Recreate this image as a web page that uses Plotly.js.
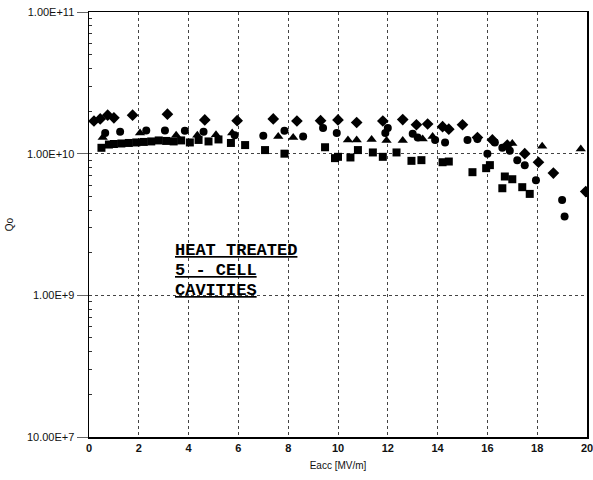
<!DOCTYPE html>
<html>
<head>
<meta charset="utf-8">
<script src="https://cdn.plot.ly/plotly-3.0.1.min.js"></script>
<style>html,body{margin:0;padding:0;background:#fff;}#chart{width:593px;height:480px;}</style>
</head>
<body>
<div id="chart"></div>
<script>
// Series values (Eacc in MV/m, Qo)
var diamondX = [0.2,0.45,0.75,1.0,1.75,3.15,4.65,5.95,7.4,8.35,9.3,10.0,10.75,11.8,12.6,13.15,13.6,14.2,14.45,15.0,15.6,16.2,16.8,17.5,18.05,18.65,19.95];
var diamondY = [1.70e10,1.76e10,1.87e10,1.79e10,1.87e10,1.90e10,1.73e10,1.71e10,1.76e10,1.70e10,1.71e10,1.73e10,1.66e10,1.70e10,1.74e10,1.60e10,1.62e10,1.55e10,1.49e10,1.60e10,1.30e10,1.25e10,1.15e10,1.00e10,0.87e10,0.73e10,0.54e10];

var circleX = [0.65,1.25,2.3,3.05,3.85,4.6,5.85,7.0,7.85,8.6,9.4,9.95,11.9,12.0,13.0,13.2,13.9,14.3,15.2,15.6,16.0,16.3,16.6,16.9,17.2,17.5,17.95,19.0,19.1];
var circleY = [1.40e10,1.43e10,1.46e10,1.46e10,1.45e10,1.43e10,1.35e10,1.34e10,1.45e10,1.32e10,1.52e10,1.40e10,1.40e10,1.52e10,1.38e10,1.30e10,1.25e10,1.20e10,1.25e10,1.27e10,1.00e10,1.20e10,1.10e10,1.05e10,0.90e10,0.83e10,0.65e10,0.47e10,0.36e10];

var triangleX = [0.55,2.05,3.5,4.35,5.1,5.75,7.6,8.2,10.4,10.75,11.35,11.95,12.6,13.4,13.8,17.0,18.2,19.75];
var triangleY = [1.30e10,1.40e10,1.35e10,1.35e10,1.36e10,1.40e10,1.32e10,1.30e10,1.25e10,1.25e10,1.26e10,1.24e10,1.24e10,1.27e10,1.32e10,1.18e10,1.13e10,1.08e10];

var squareX = [0.5,0.8,1.0,1.3,1.6,1.9,2.2,2.5,2.8,3.1,3.4,3.7,4.05,4.4,4.8,5.2,5.7,6.27,7.07,7.85,9.48,9.88,10.0,10.5,10.8,11.4,11.8,12.35,12.95,13.35,14.2,14.45,15.4,15.95,16.1,16.6,16.7,17.0,17.4,17.7];
var squareY = [1.10e10,1.16e10,1.17e10,1.18e10,1.19e10,1.20e10,1.21e10,1.22e10,1.24e10,1.23e10,1.22e10,1.24e10,1.20e10,1.25e10,1.22e10,1.26e10,1.19e10,1.15e10,1.06e10,1.00e10,1.11e10,0.93e10,0.95e10,0.94e10,1.06e10,1.02e10,0.95e10,1.02e10,0.89e10,0.90e10,0.87e10,0.88e10,0.74e10,0.79e10,0.83e10,0.57e10,0.69e10,0.66e10,0.58e10,0.52e10];

// Axis ticks and labels
var xTickVals = [0,2,4,6,8,10,12,14,16,18,20];
var yTickVals = [1e8,1e9,1e10,1e11];
var yTickText = ["10.00E+7","1.00E+9","1.00E+10","1.00E+11"];
var noteLines = ["HEAT TREATED","5 - CELL","CAVITIES"];

var minorVals = [];
for (var d = 8; d < 11; d++) { for (var m = 2; m <= 9; m++) { minorVals.push(m * Math.pow(10, d)); } }

function series(x, y, sym, size) {
  return {x: x, y: y, type: 'scatter', mode: 'markers', showlegend: false,
          marker: {symbol: sym, size: size, color: '#000', line: {width: 0}}};
}
var data = [
  series(squareX, squareY, 'square', 8),
  series(triangleX, triangleY, 'triangle-up', 9),
  series(circleX, circleY, 'circle', 8),
  series(diamondX, diamondY, 'diamond', 9)
];

var noteY = [0.438, 0.391, 0.344];
var annotations = noteLines.map(function(t, i) {
  return {text: '<b><u>' + t + '</u></b>', xref: 'paper', yref: 'paper', x: 0.168, y: noteY[i],
          xanchor: 'left', yanchor: 'middle', showarrow: false,
          font: {family: 'Liberation Mono, Courier New, monospace', size: 17, color: '#000'}};
});

var layout = {
  width: 593, height: 480,
  margin: {l: 89, r: 6, t: 12, b: 43},
  paper_bgcolor: '#fff', plot_bgcolor: '#fff',
  font: {family: 'Liberation Sans, Arial, sans-serif', color: '#111'},
  xaxis: {
    range: [0, 20], tickmode: 'array', tickvals: xTickVals,
    showgrid: true, gridcolor: '#444', griddash: 'dot', gridwidth: 1,
    showline: true, mirror: true, linecolor: '#000', linewidth: 1.5,
    ticks: '', zeroline: false, ticklabeloverflow: 'allow',
    tickfont: {size: 11, color: '#111', weight: 'bold'},
    title: {text: 'Eacc [MV/m]', font: {size: 10, color: '#111'}, standoff: 9}
  },
  yaxis: {
    type: 'log', range: [8, 11], tickmode: 'array', tickvals: yTickVals, ticktext: yTickText,
    showgrid: true, gridcolor: '#444', griddash: 'dot', gridwidth: 1,
    showline: true, mirror: true, linecolor: '#000', linewidth: 1.5,
    ticks: 'outside', ticklen: 11, tickcolor: '#666', tickwidth: 1,
    minor: {tickmode: 'array', tickvals: minorVals, ticks: 'inside', ticklen: 3, tickcolor: '#333', showgrid: false},
    zeroline: false,
    tickfont: {size: 11, color: '#111'},
    title: {text: 'Qo', font: {size: 10, color: '#111'}, standoff: 11}
  },
  annotations: annotations
};

Plotly.newPlot('chart', data, layout, {staticPlot: true, displayModeBar: false});
</script>
</body>
</html>
